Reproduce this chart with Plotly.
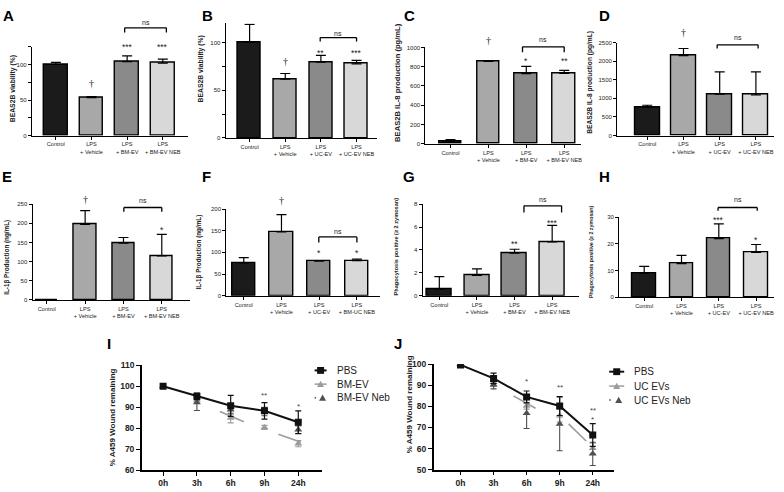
import plotly.graph_objects as go

W, H = 784, 492

# ---------------- data ----------------
cats_bm = ["Control", "LPS<br>+ Vehicle", "LPS<br>+ BM-EV", "LPS<br>+ BM-EV NEB"]
cats_uc = ["Control", "LPS<br>+ Vehicle", "LPS<br>+ UC-EV", "LPS<br>+ UC-EV NEB"]
cats_f = ["Control", "LPS<br>+ Vehicle", "LPS<br>+ UC-EV", "LPS<br>+ BM-UC NEB"]

a_vals = [100, 53.5, 104, 102]
a_err = [3, 1.5, 8, 5.5]
b_vals = [100, 61.5, 79.5, 77.7]
b_err = [19, 6, 7, 3.5]
c_vals = [30, 854, 728, 730]
c_err = [14, 10, 75, 32]
d_vals = [765, 2150, 1115, 1095]
d_err = [50, 190, 595, 615]
e_vals = [0, 197, 148.5, 115]
e_err = [0, 36, 14.5, 56]
f_vals = [75.5, 147, 79.5, 81]
f_err = [12.5, 40, 0.5, 3.5]
g_vals = [0.57, 1.77, 3.71, 4.71]
g_err = [1.1, 0.57, 0.35, 1.43]
h_vals = [9, 12.6, 22, 16.8]
h_err = [2.6, 3.1, 5.5, 3.0]

time_labels = ["0h", "3h", "6h", "9h", "24h"]
time_pos = list(range(len(time_labels)))

i_pbs = [100, 95.2, 90.7, 88.3, 82.9]
i_pbs_err = [0, 1.6, 5.0, 3.9, 5.4]
i_bm = [100, 93.5, 84.9, 80.4, 72.7]
i_bm_err = [0, 1.5, 2.3, 1.0, 1.5]
i_neb = [100, 92.3, 88.8, 88.0, 79.3]
i_neb_err = [0, 3.8, 2.0, 2.0, 1.8]
i_seg1_x = [1.68, 2.39]
i_seg1_y = [88.0, 83.1]
i_seg2_x = [3.41, 4.08]
i_seg2_y = [77.2, 73.4]
i_sig = [(3, "**", 96.5), (4, "*", 91.1)]

j_pbs = [99.7, 93.3, 84.5, 80.2, 66.4]
j_pbs_err = [0, 2.5, 2.8, 4.5, 5.4]
j_uc = [100, 91.5, 80.2, 75.6, 60.1]
j_uc_err = [0, 2.0, 1.5, 3.0, 2.5]
j_neb = [100, 90.3, 76.8, 71.7, 57.5]
j_neb_err = [0, 2.0, 7.3, 12.7, 5.5]
j_seg1_x = [1.60, 2.27]
j_seg1_y = [85.0, 79.1]
j_seg2_x = [3.27, 3.80]
j_seg2_y = [71.7, 63.6]
j_sig = [(2, "*", 93.0), (3, "**", 90.1), (4, "**", 79.1), (4, "*", 74.8)]

# ---------------- style / layout helpers ----------------
FONT = "Liberation Sans, Arial, sans-serif"
TXT = "#222222"
bar_colors = ["#1b1b1b", "#a8a8a8", "#8a8a8a", "#d8d8d8"]


def fx(px):
    return px / W


def fy(px):
    return 1 - px / H


bar_panels = [
    dict(letter="A", cats=cats_bm, vals=a_vals, err=a_err, box=(32, 188, 133.3, 42.6), yr=[0, 125],
         dtick=50, minor=25, xr=[-0.67, 3.70], bw=0.67, title="BEAS2B viability (%)", tpos=(13, 85),
         tsize=6.8, lpos=(8.5, 11), sig=[(1, "†", 80), (2, "***", 40.7), (3, "***", 40.7)],
         br=(1.93, 3.1, 23.3, 28, 18.3)),
    dict(letter="B", cats=cats_uc, vals=b_vals, err=b_err, box=(226, 377, 135.7, 18.8), yr=[0, 120],
         dtick=50, minor=25, xr=[-0.67, 3.56], bw=0.65, title="BEAS2B viability (%)", tpos=(201, 65),
         tsize=6.8, lpos=(207.5, 11), sig=[(1, "†", 57.7), (2, "**", 46.7), (3, "***", 46.7)],
         br=(1.98, 3.0, 33.3, 37.3, 29)),
    dict(letter="C", cats=cats_bm, vals=c_vals, err=c_err, box=(426, 582, 141.7, 43.3), yr=[0, 1000],
         dtick=200, minor=None, xr=[-0.66, 3.45], bw=0.6, title="BEAS2B IL-8 production (pg/mL)",
         tpos=(398, 79), tsize=7.6, lpos=(410, 11), sig=[(1, "†", 36), (2, "*", 55), (3, "**", 55)],
         br=(1.9, 3.0, 42.7, 48.3, 35)),
    dict(letter="D", cats=cats_uc, vals=d_vals, err=d_err, box=(618, 775, 133.3, 38.3), yr=[0, 2500],
         dtick=500, minor=None, xr=[-0.83, 3.5], bw=0.69, title="BEAS2B IL-8 production (pg/mL)",
         tpos=(591, 79), tsize=6.6, lpos=(605, 11), sig=[(1, "†", 28.3)],
         br=(1.93, 3.06, 40.7, 44.3, 33.3)),
    dict(letter="E", cats=cats_bm, vals=e_vals, err=e_err, box=(32.7, 190, 301, 203.3), yr=[0, 250],
         dtick=50, minor=None, xr=[-0.37, 3.73], bw=0.59, title="IL-1β Production (ng/mL)",
         tpos=(7, 257), tsize=6.3, lpos=(7, 175), sig=[(1, "†", 198.3), (3, "*", 226.7)],
         br=(2.01, 3.0, 206.7, 211, 199.3)),
    dict(letter="F", cats=cats_f, vals=f_vals, err=f_err, box=(226.7, 380, 296.7, 208.3), yr=[0, 200],
         dtick=50, minor=None, xr=[-0.46, 3.6], bw=0.62, title="IL-1β Production (ng/mL)",
         tpos=(199, 252), tsize=6.3, lpos=(207, 175), sig=[(1, "†", 200), (2, "*", 251), (3, "*", 251)],
         br=(1.99, 3.0, 236.7, 242.3, 230.7)),
    dict(letter="G", cats=cats_bm, vals=g_vals, err=g_err, box=(423.3, 580, 296.7, 203.3), yr=[0, 8],
         dtick=2, minor=None, xr=[-0.44, 3.72], bw=0.66, title="Phagocytosis positive (≥ 2 zymosan)",
         tpos=(397, 246), tsize=5.6, lpos=(410, 175), sig=[(2, "**", 241), (3, "***", 220)],
         br=(2.25, 3.25, 205, 211.7, 198.3)),
    dict(letter="H", cats=cats_uc, vals=h_vals, err=h_err, box=(620, 775, 298.3, 216.7), yr=[0, 30],
         dtick=10, minor=None, xr=[-0.67, 3.48], bw=0.63, title="Phagocytosis positive (≥ 2 zymosan)",
         tpos=(592, 252), tsize=5.3, lpos=(605, 175), sig=[(2, "***", 217.3), (3, "*", 237.7)],
         br=(1.98, 3.03, 206.7, 210, 198.3)),
]

fig = go.Figure()
layout = {}
annotations = []
shapes = []

for n, p in enumerate(bar_panels, start=1):
    xa = "x" if n == 1 else f"x{n}"
    ya = "y" if n == 1 else f"y{n}"
    xk = "xaxis" if n == 1 else f"xaxis{n}"
    yk = "yaxis" if n == 1 else f"yaxis{n}"
    x0, x1, yb, yt = p["box"]
    fig.add_trace(go.Bar(
        x=p["cats"], y=p["vals"], width=p["bw"],
        marker=dict(color=bar_colors, line=dict(color="black", width=1.4)),
        error_y=dict(type="data", symmetric=False, array=p["err"], arrayminus=[0] * len(p["err"]),
                     color="black", thickness=1.2, width=5),
        xaxis=xa, yaxis=ya, showlegend=False))
    layout[xk] = dict(domain=[fx(x0), fx(x1)], range=p["xr"], anchor=ya, type="category",
                      showline=True, linecolor="black", linewidth=1.3, ticks="outside", ticklen=3,
                      tickwidth=1.1, tickcolor="black", tickangle=0,
                      tickfont=dict(size=5.6, family=FONT, color=TXT),
                      showgrid=False, zeroline=False, fixedrange=True)
    yax = dict(domain=[fy(yb), fy(yt)], range=p["yr"], anchor=xa, showline=True, linecolor="black",
               linewidth=1.3, ticks="outside", ticklen=3, tickwidth=1.1, tickcolor="black",
               tick0=0, dtick=p["dtick"], tickfont=dict(size=6, family=FONT, color=TXT),
               showgrid=False, zeroline=False, fixedrange=True)
    if p["minor"]:
        yax["minor"] = dict(dtick=p["minor"], ticks="outside", ticklen=3, tickwidth=1.1, tickcolor="black")
    layout[yk] = yax
    # axis title
    tx, ty = p["tpos"]
    annotations.append(dict(text="<b>" + p["title"] + "</b>", x=fx(tx), y=fy(ty), xref="paper", yref="paper",
                            textangle=-90, showarrow=False, xanchor="center", yanchor="middle",
                            font=dict(size=p["tsize"], family=FONT, color=TXT)))
    # panel letter
    lx, ly = p["lpos"]
    annotations.append(dict(text="<b>" + p["letter"] + "</b>", x=fx(lx), y=fy(ly), xref="paper",
                            yref="paper", showarrow=False, xanchor="center", yanchor="middle",
                            font=dict(size=15, family=FONT, color="black")))
    # significance marks
    for ci, s, spx in p["sig"]:
        is_star = "*" in s
        annotations.append(dict(text=s, x=ci, y=fy(spx), xref=xa, yref="paper", showarrow=False,
                                xanchor="center", yanchor="middle", yshift=-2.5 if is_star else 0,
                                font=dict(size=8.5 if is_star else 10,
                                          family=FONT if is_star else "Liberation Serif, DejaVu Serif, serif",
                                          color="#1a1a1a")))
    # bracket
    bx0, bx1, bry, brt, nsy = p["br"]
    for (sx0, sy0, sx1, sy1) in [(bx0, bry, bx1, bry), (bx0, bry, bx0, brt), (bx1, bry, bx1, brt)]:
        shapes.append(dict(type="line", xref=xa, yref="paper", x0=sx0, x1=sx1, y0=fy(sy0), y1=fy(sy1),
                           line=dict(color="black", width=1.3)))
    annotations.append(dict(text="ns", x=(bx0 + bx1) / 2, y=fy(nsy), xref=xa, yref="paper", showarrow=False,
                            xanchor="center", yanchor="middle", font=dict(size=7, family=FONT, color=TXT)))

# ---------------- wound healing panels ----------------
line_panels = [
    dict(letter="I", pbs=i_pbs, pbs_err=i_pbs_err, ev=i_bm, ev_err=i_bm_err, neb=i_neb, neb_err=i_neb_err,
         segs=[(i_seg1_x, i_seg1_y), (i_seg2_x, i_seg2_y)], sig=i_sig,
         box=(142, 322, 475, 367.7), yr=[60, 110], xr=[-0.63, 4.69], tpos=(113, 421), lpos=(109.5, 346),
         names=["PBS", "BM-EV", "BM-EV Neb"], leg=(315, 327, 335, [373, 387, 401])),
    dict(letter="J", pbs=j_pbs, pbs_err=j_pbs_err, ev=j_uc, ev_err=j_uc_err, neb=j_neb, neb_err=j_neb_err,
         segs=[(j_seg1_x, j_seg1_y), (j_seg2_x, j_seg2_y)], sig=j_sig,
         box=(434.3, 615, 474.3, 366.7), yr=[50, 100], xr=[-0.81, 4.65], tpos=(410, 407), lpos=(399, 346),
         names=["PBS", "UC EVs", "UC EVs Neb"], leg=(610, 625, 633, [374.3, 389, 403.3])),
]

EV_C = "#9c9c9c"
NEB_C = "#4f4f4f"

for k, p in enumerate(line_panels):
    n = 9 + k
    xa, ya, xk, yk = f"x{n}", f"y{n}", f"xaxis{n}", f"yaxis{n}"
    x0, x1, yb, yt = p["box"]
    fig.add_trace(go.Scatter(x=time_pos, y=p["ev"], mode="markers",
                             marker=dict(symbol="triangle-up", size=7, color=EV_C),
                             error_y=dict(type="data", array=p["ev_err"], color=EV_C, thickness=1.1, width=3),
                             xaxis=xa, yaxis=ya, showlegend=False))
    fig.add_trace(go.Scatter(x=time_pos, y=p["neb"], mode="markers",
                             marker=dict(symbol="triangle-up", size=7, color=NEB_C),
                             error_y=dict(type="data", array=p["neb_err"], color=NEB_C, thickness=1.1, width=3),
                             xaxis=xa, yaxis=ya, showlegend=False))
    for sx, sy in p["segs"]:
        fig.add_trace(go.Scatter(x=sx, y=sy, mode="lines", line=dict(color=EV_C, width=1.6),
                                 xaxis=xa, yaxis=ya, showlegend=False, hoverinfo="skip"))
    fig.add_trace(go.Scatter(x=time_pos, y=p["pbs"], mode="lines+markers",
                             line=dict(color="#111111", width=2),
                             marker=dict(symbol="square", size=7, color="#111111"),
                             error_y=dict(type="data", array=p["pbs_err"], color="#111111", thickness=1.2, width=3),
                             xaxis=xa, yaxis=ya, showlegend=False))
    layout[xk] = dict(domain=[fx(x0), fx(x1)], range=p["xr"], anchor=ya, tickvals=time_pos, ticktext=time_labels,
                      showline=True, linecolor="black", linewidth=1.5, ticks="outside", ticklen=4, tickwidth=1.3,
                      tickcolor="black", tickfont=dict(size=8.5, family=FONT, color=TXT, weight="bold"),
                      showgrid=False, zeroline=False, fixedrange=True)
    layout[yk] = dict(domain=[fy(yb), fy(yt)], range=p["yr"], anchor=xa, tick0=0, dtick=10,
                      showline=True, linecolor="black", linewidth=1.5, ticks="outside", ticklen=4, tickwidth=1.3,
                      tickcolor="black", tickfont=dict(size=8.5, family=FONT, color=TXT, weight="bold"),
                      showgrid=False, zeroline=False, fixedrange=True)
    tx, ty = p["tpos"]
    annotations.append(dict(text="<b>% A459 Wound remaining</b>", x=fx(tx), y=fy(ty), xref="paper", yref="paper",
                            textangle=-90, showarrow=False, xanchor="center", yanchor="middle",
                            font=dict(size=8, family=FONT, color=TXT)))
    lx, ly = p["lpos"]
    annotations.append(dict(text="<b>" + p["letter"] + "</b>", x=fx(lx), y=fy(ly), xref="paper",
                            yref="paper", showarrow=False, xanchor="center", yanchor="middle",
                            font=dict(size=15, family=FONT, color="black")))
    for ci, s, val in p["sig"]:
        annotations.append(dict(text=s, x=ci, y=val, xref=xa, yref=ya, showarrow=False, xanchor="center",
                                yanchor="middle", yshift=-2, font=dict(size=8, family=FONT, color="#444")))
    # manual legend
    lx0, lx1, ltx, rows = p["leg"]
    mid = (lx0 + lx1) / 2
    r = rows[0]
    shapes.append(dict(type="line", xref="paper", yref="paper", x0=fx(lx0), x1=fx(lx1), y0=fy(r), y1=fy(r),
                       line=dict(color="#111111", width=2)))
    shapes.append(dict(type="rect", xref="paper", yref="paper", x0=fx(mid - 3.5), x1=fx(mid + 3.5),
                       y0=fy(r + 3.5), y1=fy(r - 3.5), fillcolor="#111111", line=dict(width=0)))
    r = rows[1]
    shapes.append(dict(type="line", xref="paper", yref="paper", x0=fx(lx0), x1=fx(lx1), y0=fy(r), y1=fy(r),
                       line=dict(color=EV_C, width=1.5)))
    shapes.append(dict(type="path", xref="paper", yref="paper",
                       path=f"M {fx(mid-3.5)},{fy(r+3)} L {fx(mid+3.5)},{fy(r+3)} L {fx(mid)},{fy(r-3.5)} Z",
                       fillcolor=EV_C, line=dict(width=0)))
    r = rows[2]
    shapes.append(dict(type="rect", xref="paper", yref="paper", x0=fx(lx0), x1=fx(lx0 + 1.5),
                       y0=fy(r + 0.75), y1=fy(r - 0.75), fillcolor=NEB_C, line=dict(width=0)))
    tm = mid + 2
    shapes.append(dict(type="path", xref="paper", yref="paper",
                       path=f"M {fx(tm-3.5)},{fy(r+3)} L {fx(tm+3.5)},{fy(r+3)} L {fx(tm)},{fy(r-3.5)} Z",
                       fillcolor=NEB_C, line=dict(width=0)))
    for name, r in zip(p["names"], rows):
        annotations.append(dict(text=name, x=fx(ltx), y=fy(r), xref="paper", yref="paper", showarrow=False,
                                xanchor="left", yanchor="middle", font=dict(size=10, family=FONT, color=TXT)))

fig.update_layout(**layout)
fig.update_layout(width=W, height=H, autosize=False, margin=dict(l=0, r=0, t=0, b=0, pad=0),
                  paper_bgcolor="white", plot_bgcolor="white", annotations=annotations, shapes=shapes,
                  showlegend=False, font=dict(family=FONT, color=TXT), bargap=0)

fig.write_html("out.html", config={"displayModeBar": False},
               post_script="document.body.style.margin='0';")
